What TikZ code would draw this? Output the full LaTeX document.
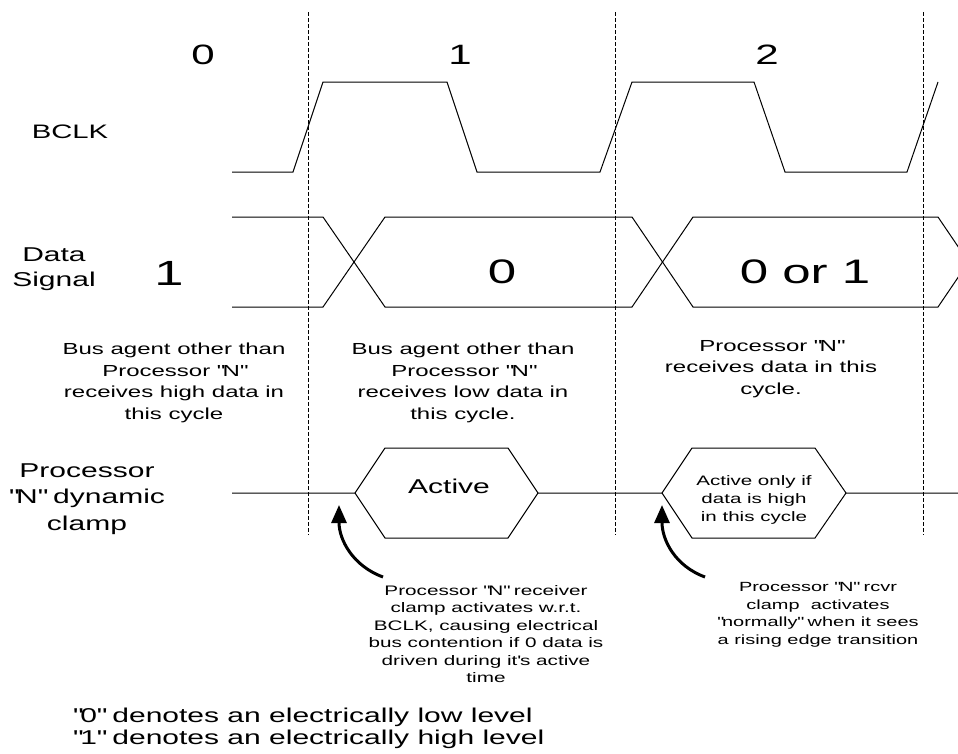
\documentclass[tikz,border=0pt]{standalone}
\usepackage{fontspec}
\setmainfont{Liberation Sans}[FakeStretch=1.5]
\usetikzlibrary{arrows.meta}
\newcommand{\dq}{\textquotedbl}
\begin{document}
\begin{tikzpicture}[x=1pt,y=-1pt,
  wave/.style={line width=1pt, line join=miter},
  gridline/.style={line width=0.8pt, dash pattern=on 4pt off 2pt},
  lbl/.style={inner sep=0pt, align=center},
  callout/.style={line width=3pt, -{Triangle[length=18pt,width=15pt]}}]
\useasboundingbox (0,0) rectangle (958,753);
\clip (0,0) rectangle (958,753);
% cycle boundaries
\foreach \x in {308,615,923} \draw[gridline] (\x,12) -- (\x,535);
% cycle numbers
\node[lbl, font=\fontsize{28}{32}\selectfont] (c0) at (203,55) {0};
\node[lbl, font=\fontsize{28}{32}\selectfont] (c1) at (460,55) {1};
\node[lbl, font=\fontsize{28}{32}\selectfont] (c2) at (767,55) {2};
% BCLK
\node[lbl, font=\fontsize{19.5}{22}\selectfont] (bclk) at (70,132) {BCLK};
\draw[wave] (232,172) -- (293,172) -- (323,82) -- (447,82) -- (477,172) -- (600,172) -- (632,82) -- (754,82) -- (785,172) -- (907,172) -- (938,82);
% Data signal
\node[lbl, font=\fontsize{20}{25}\selectfont] (data) at (54,269) {Data\\Signal};
\draw[wave] (232,217) -- (323,217) -- (385,307) -- (632,307) -- (693,217) -- (938,217) -- (968.5,262);
\draw[wave] (232,307) -- (323,307) -- (385,217) -- (632,217) -- (693,307) -- (938,307) -- (968.5,262);
\node[lbl, font=\fontsize{35}{40}\selectfont] (d1) at (169,273) {1};
\node[lbl, font=\fontsize{34}{40}\selectfont] (d0) at (502,272) {0};
\node[lbl, font=\fontsize{34}{40}\selectfont] (d01) at (805,272) {0 or 1};
% cycle descriptions
\node[lbl, font=\fontsize{16}{21.5}\selectfont] (t0) at (174,383) {Bus agent other than\\Processor \dq N\dq\\receives high data in\\this cycle};
\node[lbl, font=\fontsize{16}{21.5}\selectfont] (t1) at (463,383) {Bus agent other than\\Processor \dq N\dq\\receives low data in\\this cycle.};
\node[lbl, font=\fontsize{16}{21.5}\selectfont] (t2) at (771,369) {Processor \dq N\dq\\receives data in this\\cycle.};
% clamp
\node[lbl, font=\fontsize{20}{26.5}\selectfont] (clamp) at (87,499) {Processor\\\dq N\dq{} dynamic\\clamp};
\draw[wave] (232,493) -- (355,493) -- (385,448) -- (508,448) -- (538,493) -- (662,493) -- (692,448) -- (815,448) -- (846,493) -- (958,493);
\draw[wave] (355,493) -- (385,538) -- (508,538) -- (538,493);
\draw[wave] (662,493) -- (692,538) -- (815,538) -- (846,493);
\node[lbl, font=\fontsize{20}{24}\selectfont] (act) at (449,486) {Active};
\node[lbl, font=\fontsize{13.7}{17.7}\selectfont] (act2) at (754,500) {Active only if\\data is high\\in this cycle};
% callouts
\node[lbl, font=\fontsize{13.8}{17.5}\selectfont] (n1) at (486,634) {Processor \dq N\dq{} receiver\\clamp activates w.r.t.\\BCLK, causing electrical\\bus contention if 0 data is\\driven during it\textquotesingle s active\\time};
\node[lbl, font=\fontsize{13.3}{17.5}\selectfont] (n2) at (818,615) {Processor \dq N\dq{} rcvr\\clamp\ \ activates\\\dq normally\dq{} when it sees\\a rising edge transition};
\coordinate (tail1) at (383,577);
\coordinate (tip1) at (339,505);
\coordinate (tail2) at (705,577);
\coordinate (tip2) at (662,505);
\draw[callout] (tail1) .. controls (353,566) and (339,540) .. (tip1);
\draw[callout] (tail2) .. controls (675,566) and (662,540) .. (tip2);
% legend
\node[lbl, anchor=west, align=left, font=\fontsize{20}{22}\selectfont] (legend) at (73,728) {\dq 0\dq{} denotes an electrically low level\\\dq 1\dq{} denotes an electrically high level};
\end{tikzpicture}
\end{document}
